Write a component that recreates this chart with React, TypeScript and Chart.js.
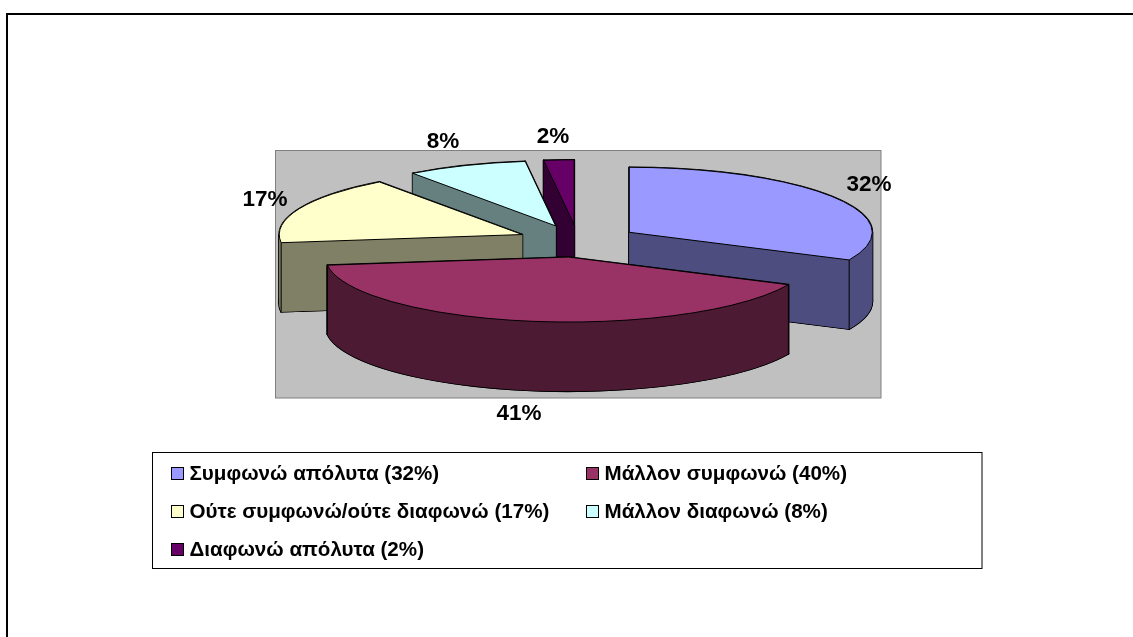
import React, { useEffect, useRef } from "react";
import { Chart, registerables } from "chart.js";

Chart.register(...registerables);

// Survey answers, in pie order (clockwise from twelve o'clock).
const categories = ["Συμφωνώ απόλυτα", "Μάλλον συμφωνώ", "Ούτε συμφωνώ/ούτε διαφωνώ", "Μάλλον διαφωνώ", "Διαφωνώ απόλυτα"];
const sliceValues = [32, 41, 17, 8, 2];
const legendPercents = [32, 40, 17, 8, 2];
const topColors = ["#9999FF", "#993366", "#FFFFCC", "#CCFFFF", "#660066"];
const wallColors = ["#4D4D80", "#4D1A33", "#808066", "#668080", "#330033"];

// Layout of the extruded pie on the page.
const PIE = { cx: 578, cy: 241, rx: 243, ry: 65, depth: 69 };
const EXPLODE = 0.25;
const PLOT = { left: 275.5, top: 150.5, right: 881, bottom: 398 };
const LEGEND = { left: 152.5, top: 452.5, right: 982, bottom: 568.5 };
const legendCols = [171, 586];
const legendRows = [473, 511, 549];
const labelAnchors = [
  [869, 185],
  [519, 413.5],
  [265, 200],
  [443, 142],
  [553, 137],
];
const FONT = '"Liberation Sans", Arial, sans-serif';

const pie3d = {
  id: "pie3d",
  beforeDraw(chart: any) {
    const { ctx, width, height } = chart;
    ctx.save();
    ctx.fillStyle = "#FFFFFF";
    ctx.fillRect(0, 0, width, height);

    // Sheet edge along the top and left.
    ctx.strokeStyle = "#000000";
    ctx.lineWidth = 2;
    ctx.beginPath();
    ctx.moveTo(7, height);
    ctx.lineTo(7, 14);
    ctx.lineTo(width, 14);
    ctx.stroke();

    // Plot background.
    ctx.fillStyle = "#C0C0C0";
    ctx.strokeStyle = "#808080";
    ctx.lineWidth = 1;
    ctx.fillRect(PLOT.left, PLOT.top, PLOT.right - PLOT.left, PLOT.bottom - PLOT.top);
    ctx.strokeRect(PLOT.left, PLOT.top, PLOT.right - PLOT.left, PLOT.bottom - PLOT.top);
    ctx.restore();
  },
  beforeDatasetsDraw(chart: any) {
    const { ctx } = chart;
    const arcs: any[] = chart.getDatasetMeta(0).data;

    const slices = arcs.map((arc, i) => {
      const mid = (arc.startAngle + arc.endAngle) / 2;
      // Each slice is pushed out along its bisector, then flattened with the ellipse.
      return {
        arc,
        i,
        ax: PIE.cx + Math.cos(mid) * EXPLODE * PIE.rx,
        ay: PIE.cy + Math.sin(mid) * EXPLODE * PIE.ry,
      };
    });
    // Painter's order: slices further back go first.
    slices.sort((a, b) => a.ay - b.ay);

    for (const s of slices) {
      const { arc, i, ax, ay } = s;
      const { startAngle: a0, endAngle: a1 } = arc;
      const rimX = (t: number) => ax + Math.cos(t) * PIE.rx;
      const rimY = (t: number) => ay + Math.sin(t) * PIE.ry;

      // The rim band folds over itself at the ellipse's left and right tips,
      // so it is split there to keep each part's winding consistent.
      const stops = [a0, ...[0, Math.PI].filter((t) => t > a0 && t < a1), a1];

      // The solid below the top face: floor, curved rim bands, and two radial walls.
      const pieces: Array<() => void> = [
        () => {
          ctx.moveTo(ax, ay + PIE.depth);
          ctx.ellipse(ax, ay + PIE.depth, PIE.rx, PIE.ry, 0, a0, a1);
        },
        () => {
          ctx.moveTo(ax, ay);
          ctx.lineTo(rimX(a0), rimY(a0));
          ctx.lineTo(rimX(a0), rimY(a0) + PIE.depth);
          ctx.lineTo(ax, ay + PIE.depth);
        },
        () => {
          ctx.moveTo(ax, ay);
          ctx.lineTo(rimX(a1), rimY(a1));
          ctx.lineTo(rimX(a1), rimY(a1) + PIE.depth);
          ctx.lineTo(ax, ay + PIE.depth);
        },
      ];
      stops.slice(1).forEach((to, k) => {
        const from = stops[k];
        pieces.push(() => {
          ctx.ellipse(ax, ay, PIE.rx, PIE.ry, 0, from, to);
          ctx.ellipse(ax, ay + PIE.depth, PIE.rx, PIE.ry, 0, to, from, true);
        });
      });
      const trace = (piece: () => void) => {
        ctx.beginPath();
        piece();
        ctx.closePath();
      };

      ctx.save();
      ctx.lineJoin = "round";
      ctx.strokeStyle = "#000000";
      ctx.lineWidth = 1.8;
      pieces.forEach((p) => {
        trace(p);
        ctx.stroke();
      });
      ctx.fillStyle = wallColors[i];
      pieces.forEach((p) => {
        trace(p);
        ctx.fill();
      });

      // Vertical edges where a rim corner faces the viewer.
      ctx.lineWidth = 1;
      for (const angle of [a0, a1]) {
        if (Math.sin(angle) > 0) {
          ctx.beginPath();
          ctx.moveTo(rimX(angle), rimY(angle));
          ctx.lineTo(rimX(angle), rimY(angle) + PIE.depth);
          ctx.stroke();
        }
      }
      ctx.restore();

      // Top face: the library's own arc, flattened into an ellipse.
      ctx.save();
      ctx.translate(ax, ay);
      ctx.scale(PIE.rx / arc.outerRadius, PIE.ry / arc.outerRadius);
      ctx.translate(-arc.x, -arc.y);
      arc.draw(ctx);
      ctx.restore();

      ctx.save();
      ctx.strokeStyle = "#000000";
      ctx.lineWidth = 1;
      ctx.beginPath();
      ctx.moveTo(ax, ay);
      ctx.ellipse(ax, ay, PIE.rx, PIE.ry, 0, a0, a1);
      ctx.closePath();
      ctx.stroke();
      ctx.restore();
    }
    return false;
  },
  afterDraw(chart: any) {
    const { ctx } = chart;
    ctx.save();

    // Value labels around the pie.
    ctx.fillStyle = "#000000";
    ctx.textAlign = "center";
    ctx.textBaseline = "middle";
    ctx.font = `bold 22.5px ${FONT}`;
    sliceValues.forEach((v, i) => {
      ctx.fillText(`${v}%`, labelAnchors[i][0], labelAnchors[i][1]);
    });

    // Legend box, two columns filled row by row.
    ctx.fillStyle = "#FFFFFF";
    ctx.strokeStyle = "#000000";
    ctx.lineWidth = 1;
    ctx.fillRect(LEGEND.left, LEGEND.top, LEGEND.right - LEGEND.left, LEGEND.bottom - LEGEND.top);
    ctx.strokeRect(LEGEND.left, LEGEND.top, LEGEND.right - LEGEND.left, LEGEND.bottom - LEGEND.top);
    ctx.textAlign = "left";
    ctx.font = `bold 20.6px ${FONT}`;
    categories.forEach((name, i) => {
      const x = legendCols[i % 2];
      const y = legendRows[Math.floor(i / 2)];
      ctx.fillStyle = topColors[i];
      ctx.fillRect(x + 0.5, y - 5.5, 12, 12);
      ctx.strokeRect(x + 0.5, y - 5.5, 12, 12);
      ctx.fillStyle = "#000000";
      ctx.fillText(`${name} (${legendPercents[i]}%)`, x + 18.5, y + 1);
    });
    ctx.restore();
  },
};

export default function App() {
  const canvasRef = useRef<HTMLCanvasElement>(null);

  useEffect(() => {
    const chart = new Chart(canvasRef.current as HTMLCanvasElement, {
      type: "pie",
      data: {
        labels: categories,
        datasets: [
          {
            data: sliceValues,
            backgroundColor: topColors,
            borderWidth: 0,
            radius: PIE.rx,
          },
        ],
      },
      options: {
        animation: false,
        responsive: false,
        maintainAspectRatio: false,
        layout: { padding: 0 },
        plugins: { legend: { display: false }, tooltip: { enabled: false } },
      },
      plugins: [pie3d],
    } as any);
    return () => chart.destroy();
  }, []);

  return (
    <div style={{ position: "fixed", left: 0, top: 0, width: 1133, height: 637, background: "#fff" }}>
      <canvas ref={canvasRef} width={1133} height={637} style={{ display: "block" }} />
    </div>
  );
}
